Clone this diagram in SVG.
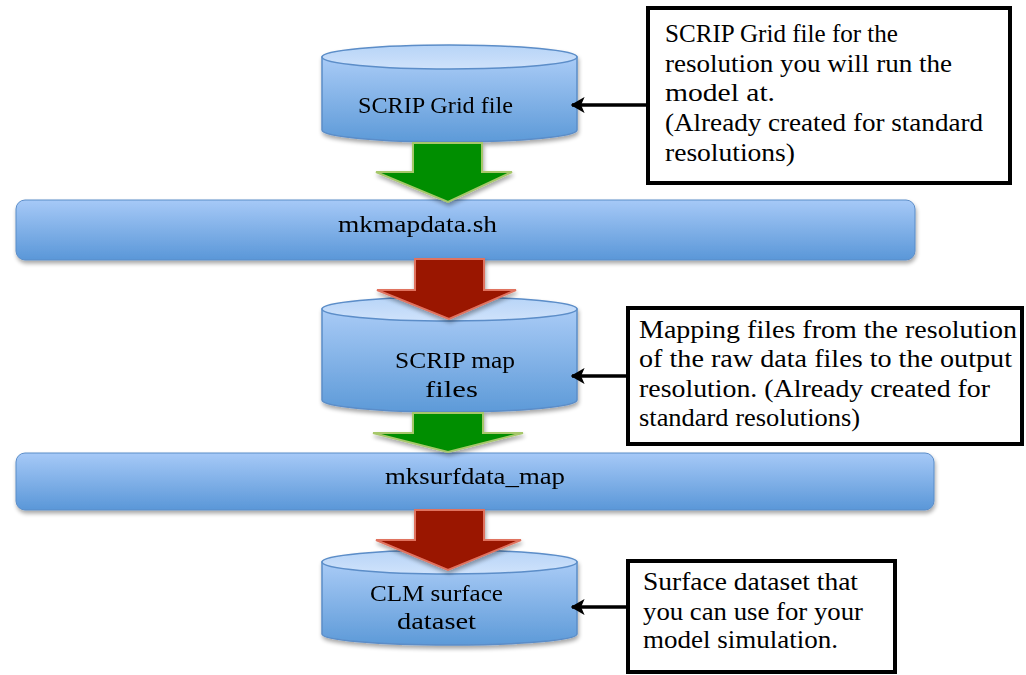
<svg xmlns="http://www.w3.org/2000/svg" width="1026" height="675" viewBox="0 0 1026 675">
<defs>
<linearGradient id="body" x1="0" y1="0" x2="0" y2="1"><stop offset="0" stop-color="#a9cbf6"/><stop offset="1" stop-color="#5d9ad8"/></linearGradient>
<linearGradient id="top" x1="0" y1="0" x2="0" y2="1"><stop offset="0" stop-color="#b7d4f7"/><stop offset="1" stop-color="#cfe2fb"/></linearGradient>
<linearGradient id="bar" x1="0" y1="0" x2="0" y2="1"><stop offset="0" stop-color="#a6c9f7"/><stop offset="1" stop-color="#5a97d8"/></linearGradient>
<filter id="sh" x="-5%" y="-20%" width="110%" height="150%"><feGaussianBlur in="SourceAlpha" stdDeviation="2"/><feOffset dx="1" dy="3"/><feComponentTransfer><feFuncA type="linear" slope="0.35"/></feComponentTransfer><feMerge><feMergeNode/><feMergeNode in="SourceGraphic"/></feMerge></filter>
<marker id="ah" viewBox="0 0 10 10" refX="9" refY="5" markerWidth="4" markerHeight="4.6" markerUnits="strokeWidth" orient="auto" preserveAspectRatio="none"><path d="M0,0 L10,5 L0,10 L2.5,5 z" fill="#000"/></marker>
</defs>
<style>
.lbl{font-family:"Liberation Serif",serif;font-size:24px;fill:#000}
.note{font-family:"Liberation Serif",serif;font-size:25px;fill:#000}
.box{fill:#fff;stroke:#000;stroke-width:4}
.cylb{fill:url(#body);stroke:#5b8dc8;stroke-width:1.5}
.cylt{fill:url(#top);stroke:#5b8dc8;stroke-width:1.5}
.barr{fill:url(#bar);stroke:#5b8dc8;stroke-width:1}
.green{fill:#008e00;stroke:#a6c76a;stroke-width:2}
.red{fill:#9a1200;stroke:#e0735e;stroke-width:2}
.conn{stroke:#000;stroke-width:3.5;fill:none}
</style>

<g id="cyl1" filter="url(#sh)">
<path class="cylb" d="M322,57 L322,130 A127.5,12 0 0 0 577,130 L577,57 Z"/>
<ellipse class="cylt" cx="449.5" cy="57" rx="127.5" ry="12"/>
<text class="lbl" x="358" y="113" textLength="155" lengthAdjust="spacingAndGlyphs">SCRIP Grid file</text>
</g>

<g id="bar1" filter="url(#sh)">
<rect class="barr" x="16" y="200" width="899" height="60" rx="9"/>
<text class="lbl" x="338" y="232" textLength="159" lengthAdjust="spacingAndGlyphs">mkmapdata.sh</text>
</g>

<g id="cyl2" filter="url(#sh)">
<path class="cylb" d="M322,309 L322,400 A127.5,12 0 0 0 577,400 L577,309 Z"/>
<ellipse class="cylt" cx="449.5" cy="309" rx="127.5" ry="12"/>
<text class="lbl" x="395" y="368" textLength="120" lengthAdjust="spacingAndGlyphs">SCRIP map</text>
<text class="lbl" x="425" y="397" textLength="53" lengthAdjust="spacingAndGlyphs">files</text>
</g>

<g id="bar2" filter="url(#sh)">
<rect class="barr" x="16" y="453" width="918" height="57" rx="9"/>
<text class="lbl" x="385" y="484" textLength="180" lengthAdjust="spacingAndGlyphs">mksurfdata_map</text>
</g>

<g id="cyl3" filter="url(#sh)">
<path class="cylb" d="M322,562 L322,634 A127.5,11 0 0 0 577,634 L577,562 Z"/>
<ellipse class="cylt" cx="449.5" cy="562" rx="127.5" ry="12"/>
<text class="lbl" x="370" y="601" textLength="133" lengthAdjust="spacingAndGlyphs">CLM surface</text>
<text class="lbl" x="397" y="629" textLength="79" lengthAdjust="spacingAndGlyphs">dataset</text>
</g>

<g id="arrows" filter="url(#sh)">
<path class="green" d="M413,143 L482,143 L482,172 L512,172 L448,202 L376,172 L413,172 Z"/>
<path class="red" d="M415,259 L484,259 L484,290 L516,290 L449,319 L377,290 L415,290 Z"/>
<path class="green" d="M413,413 L483,413 L483,433 L523,433 L448,452 L373,433 L413,433 Z"/>
<path class="red" d="M415,510 L484,510 L484,540 L521,540 L448,570 L376,540 L415,540 Z"/>
</g>

<g id="note1">
<rect class="box" x="648" y="8" width="362" height="175"/>
<text class="note" x="665" y="42" textLength="233" lengthAdjust="spacingAndGlyphs">SCRIP Grid file for the</text>
<text class="note" x="665" y="72" textLength="287" lengthAdjust="spacingAndGlyphs">resolution you will run the</text>
<text class="note" x="665" y="101" textLength="110" lengthAdjust="spacingAndGlyphs">model at.</text>
<text class="note" x="665" y="131" textLength="318" lengthAdjust="spacingAndGlyphs">(Already created for standard</text>
<text class="note" x="665" y="161" textLength="130" lengthAdjust="spacingAndGlyphs">resolutions)</text>
</g>

<g id="note2">
<rect class="box" x="628" y="308" width="394" height="136"/>
<text class="note" x="639" y="338" textLength="378" lengthAdjust="spacingAndGlyphs">Mapping files from the resolution</text>
<text class="note" x="639" y="367" textLength="373" lengthAdjust="spacingAndGlyphs">of the raw data files to the output</text>
<text class="note" x="639" y="397" textLength="351" lengthAdjust="spacingAndGlyphs">resolution. (Already created for</text>
<text class="note" x="639" y="426" textLength="221" lengthAdjust="spacingAndGlyphs">standard resolutions)</text>
</g>

<g id="note3">
<rect class="box" x="628" y="561" width="267" height="111"/>
<text class="note" x="643" y="590" textLength="215" lengthAdjust="spacingAndGlyphs">Surface dataset that</text>
<text class="note" x="643" y="620" textLength="220" lengthAdjust="spacingAndGlyphs">you can use for your</text>
<text class="note" x="643" y="648" textLength="195" lengthAdjust="spacingAndGlyphs">model simulation.</text>
</g>

<g id="connectors">
<line class="conn" x1="646" y1="105" x2="572" y2="105" marker-end="url(#ah)"/>
<line class="conn" x1="626" y1="376" x2="572" y2="376" marker-end="url(#ah)"/>
<line class="conn" x1="626" y1="607" x2="572" y2="607" marker-end="url(#ah)"/>
</g>
</svg>
